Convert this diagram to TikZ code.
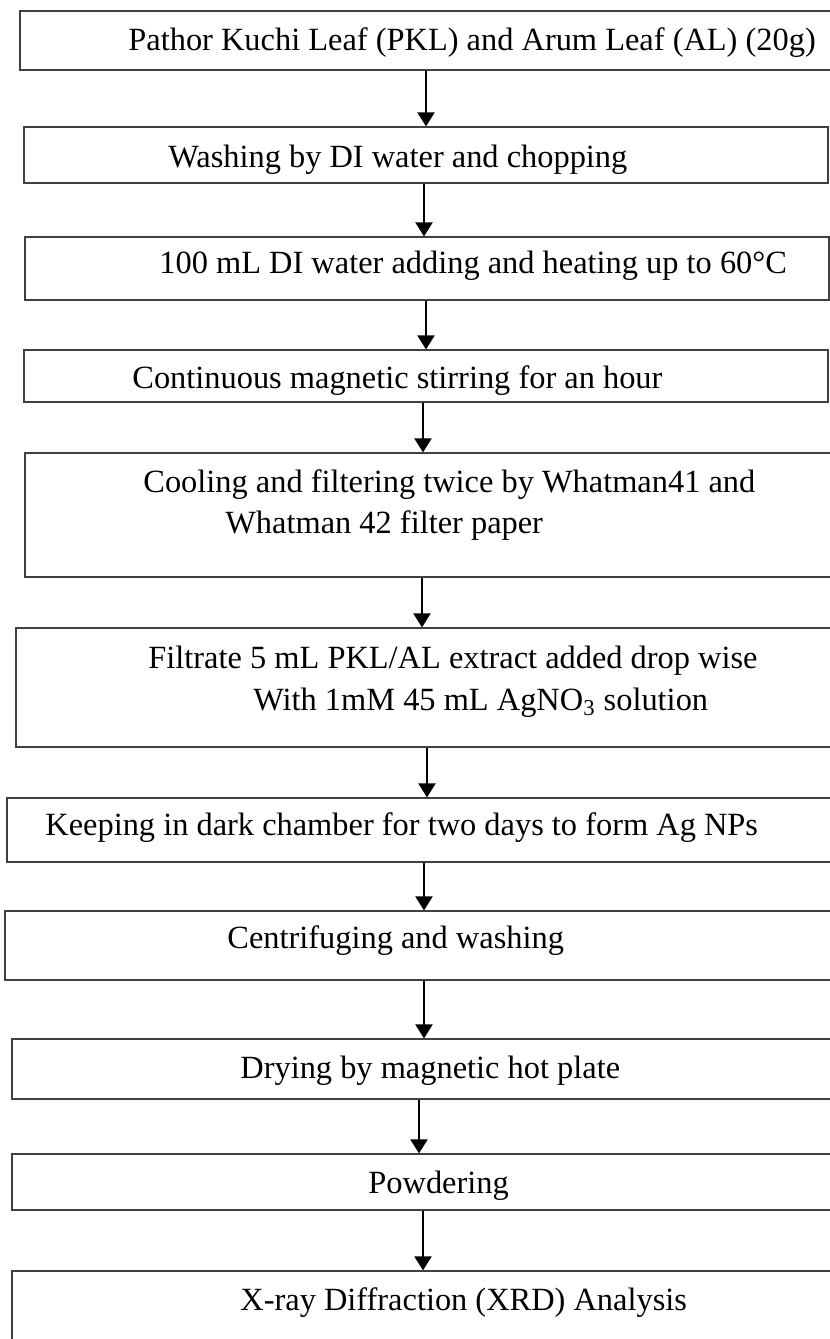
\documentclass[tikz,border=0pt]{standalone}
\usepackage{fontspec}
\setmainfont{Liberation Serif}
\usetikzlibrary{arrows.meta,fit}
\tikzset{
	stepbox/.style={draw=black!75, line width=0.6pt, inner sep=0pt},
	steptext/.style={anchor=base west, inner sep=0pt, font=\fontsize{16.2}{19}\selectfont},
	flow/.style={line width=1pt, -{Triangle[length=7pt,width=8.5pt]}}
}
\begin{document}
\begin{tikzpicture}[x=0.5pt, y=-0.5pt]
	\useasboundingbox (0,0) rectangle (830,1339);
	\clip (0,0) rectangle (830,1339);
	
	% Boxes (right side of most runs off the page)
	\node[stepbox, fit={(20,11) (845,70)}] (b1) {};
	\node[stepbox, fit={(24,127) (828,183)}] (b2) {};
	\node[stepbox, fit={(25,237) (829,300)}] (b3) {};
	\node[stepbox, fit={(24,350) (828,402)}] (b4) {};
	\node[stepbox, fit={(25,453) (845,577)}] (b5) {};
	\node[stepbox, fit={(16,628) (845,747)}] (b6) {};
	\node[stepbox, fit={(7,798) (845,862)}] (b7) {};
	\node[stepbox, fit={(5,911) (845,980)}] (b8) {};
	\node[stepbox, fit={(12,1039) (845,1099)}] (b9) {};
	\node[stepbox, fit={(12,1154) (845,1210)}] (b10) {};
	\node[stepbox, fit={(12,1271) (845,1350)}] (b11) {};
	
	% Texts
	\node[steptext] (t1) at (128,50) {Pathor Kuchi Leaf (PKL) and Arum Leaf (AL) (20g)};
	\node[steptext] (t2) at (168,167) {Washing by DI water and chopping};
	\node[steptext] (t3) at (159,273) {100 mL DI water adding and heating up to 60°C};
	\node[steptext] (t4) at (132,388) {Continuous magnetic stirring for an hour};
	\node[steptext] (t5a) at (143,492) {Cooling and filtering twice by Whatman41 and};
	\node[steptext] (t5b) at (225,533) {Whatman 42 filter paper};
	\node[steptext] (t6a) at (148,668) {Filtrate 5 mL PKL/AL extract added drop wise};
	\node[steptext] (t6b) at (253,710) {With 1mM 45 mL AgNO\textsubscript{3} solution};
	\node[steptext] (t7) at (45,835) {Keeping in dark chamber for two days to form Ag NPs};
	\node[steptext] (t8) at (227,948) {Centrifuging and washing};
	\node[steptext] (t9) at (240,1078) {Drying by magnetic hot plate};
	\node[steptext] (t10) at (368,1193) {Powdering};
	\node[steptext] (t11) at (240,1310) {X-ray Diffraction (XRD) Analysis};
	
	% Arrows
	\draw[flow] (426,0 |- b1.south) -- (426,0 |- b2.north);
	\draw[flow] (424,0 |- b2.south) -- (424,0 |- b3.north);
	\draw[flow] (426,0 |- b3.south) -- (426,0 |- b4.north);
	\draw[flow] (423,0 |- b4.south) -- (423,0 |- b5.north);
	\draw[flow] (422,0 |- b5.south) -- (422,0 |- b6.north);
	\draw[flow] (427,0 |- b6.south) -- (427,0 |- b7.north);
	\draw[flow] (424,0 |- b7.south) -- (424,0 |- b8.north);
	\draw[flow] (424,0 |- b8.south) -- (424,0 |- b9.north);
	\draw[flow] (419,0 |- b9.south) -- (419,0 |- b10.north);
	\draw[flow] (423,0 |- b10.south) -- (423,0 |- b11.north);
\end{tikzpicture}
\end{document}
